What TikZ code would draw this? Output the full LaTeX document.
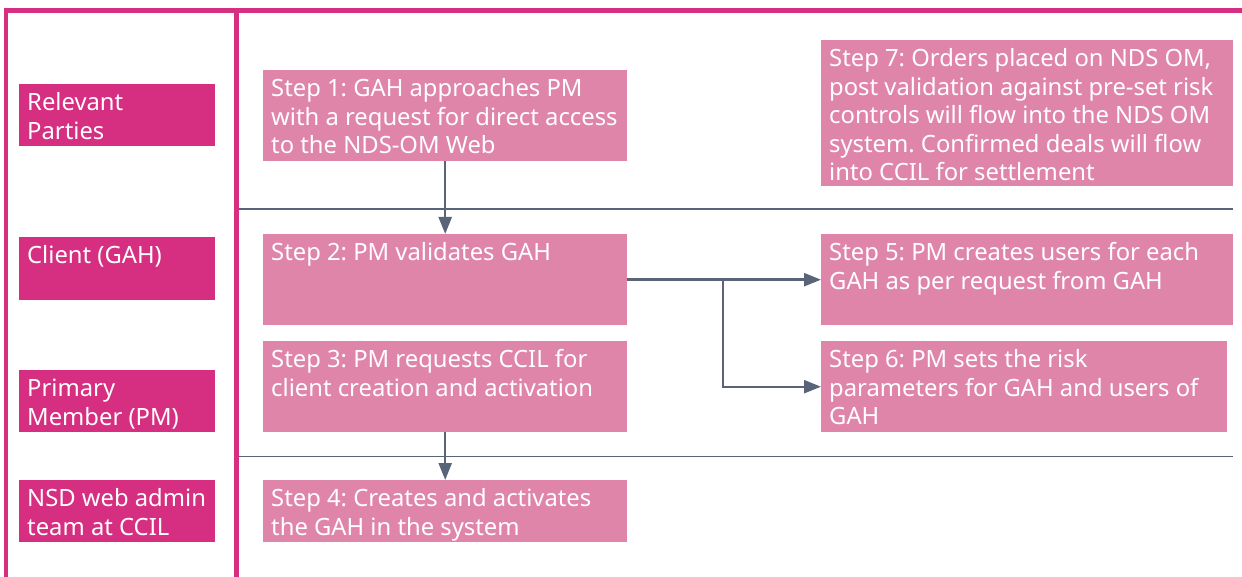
\documentclass[tikz,border=0pt]{standalone}
\usepackage{fontspec}
\setmainfont{Noto Sans}
\usetikzlibrary{arrows.meta}
\definecolor{magentadark}{RGB}{214,46,128}
\definecolor{pinklight}{RGB}{224,133,170}
\definecolor{slate}{RGB}{90,100,120}
\newcommand\bxtext[3]{\parbox[c][#2pt][t]{#1pt}{\leftskip=8pt\rightskip=0pt plus 1fil\parindent=0pt\frenchspacing\vspace*{6.7pt}\leavevmode\rule{0pt}{20pt}#3}}
\tikzset{
  stepbox/.style={fill=pinklight, text=white, inner sep=0pt, anchor=north west,
    font=\fontsize{23.8}{28.5}\selectfont},
  partybox/.style={fill=magentadark, text=white, inner sep=0pt, anchor=north west,
    font=\fontsize{23.8}{28.5}\selectfont},
  border/.style={draw=magentadark, line width=4.5pt},
  rowline/.style={draw=slate, line width=1.3pt},
  arr/.style={draw=slate, line width=2.4pt, -{Triangle[length=17pt,width=13pt]}},
}
\begin{document}
\begin{tikzpicture}[x=1pt,y=-1pt]
\useasboundingbox (0,0) rectangle (1242,577);
% borders
\draw[border] (6,577) -- (6,10.5) -- (1242,10.5);
\draw[border] (236.5,10.5) -- (236.5,577);
% row separators
\draw[rowline] (239,209) -- (1233,209);
\draw[rowline] (239,456.5) -- (1233,456.5);
% party labels
\node[partybox] (p1) at (19,84) {\bxtext{196}{62}{Relevant\\Parties}};
\node[partybox] (p2) at (19,237) {\bxtext{196}{63}{Client (GAH)}};
\node[partybox] (p3) at (19,370) {\bxtext{196}{62}{Primary\\Member (PM)}};
\node[partybox] (p4) at (19,480) {\bxtext{196}{62}{NSD web admin\\team at CCIL}};
% steps
\node[stepbox] (s1) at (263,70) {\bxtext{364}{91}{Step 1: GAH approaches PM\\with a request for direct access\\to the NDS-OM Web}};
\node[stepbox] (s2) at (263,234) {\bxtext{364}{91}{Step 2: PM validates GAH}};
\node[stepbox] (s3) at (263,341) {\bxtext{364}{91}{Step 3: PM requests CCIL for\\client creation and activation}};
\node[stepbox] (s4) at (263,480) {\bxtext{364}{62}{Step 4: Creates and activates\\the GAH in the system}};
\node[stepbox] (s5) at (821,234) {\bxtext{412}{91}{Step 5: PM creates users for each\\GAH as per request from GAH}};
\node[stepbox] (s6) at (821,341) {\bxtext{406}{91}{Step 6: PM sets the risk\\parameters for GAH and users of\\GAH}};
\node[stepbox] (s7) at (821,40) {\bxtext{412}{146}{Step 7: Orders placed on NDS OM,\\post validation against pre-set risk\\controls will flow into the NDS OM\\system. Confirmed deals will flow\\into CCIL for settlement}};
% connectors
\coordinate (br) at (723,279.5);
\draw[arr] (s1.south) -- (s2.north);
\draw[arr] (s3.south) -- (s4.north);
\draw[arr] (s2.east) -- (s5.west);
\draw[arr] (br) |- (s6.west);
\end{tikzpicture}
\end{document}
